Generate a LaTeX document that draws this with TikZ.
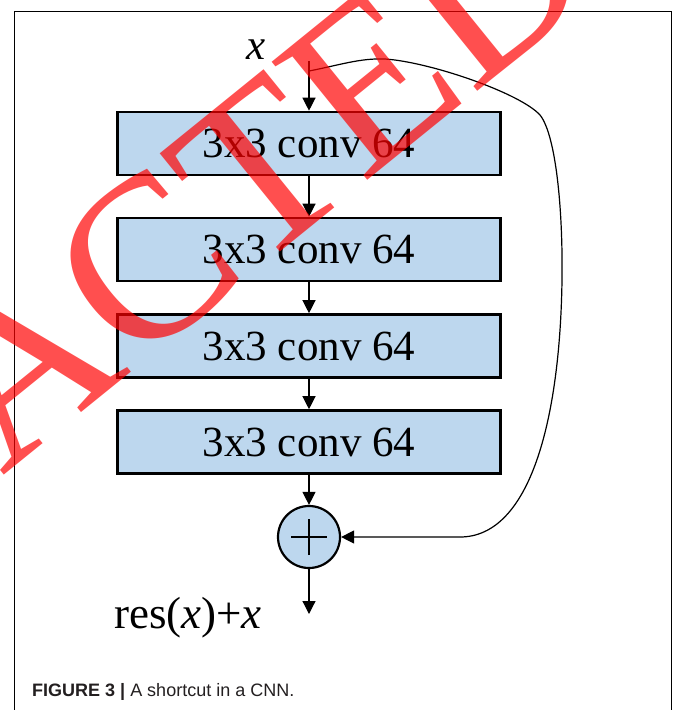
\documentclass[tikz,border=0pt]{standalone}
\usepackage{fontspec}
\setmainfont{Liberation Serif}
\newfontfamily\capfont{Liberation Sans}
\usetikzlibrary{arrows.meta}
\definecolor{boxblue}{HTML}{BDD7EE}
\definecolor{captxt}{HTML}{231F20}
\tikzset{
  convbox/.style={draw=black, line width=2.6pt, fill=boxblue, minimum width=383pt, minimum height=63pt, inner sep=0pt, font=\fontsize{43}{50}\selectfont},
  sumnode/.style={circle, draw=black, line width=2.2pt, fill=boxblue, minimum size=62pt, inner sep=0pt},
  conn/.style={line width=1.2pt, -{Triangle[length=13pt,width=13pt]}},
  frameline/.style={line width=0.9pt},
  wmark/.style={text=red, text opacity=0.69, inner sep=0pt, font=\fontsize{232}{232}\selectfont}
}
\begin{document}
\begin{tikzpicture}[x=1pt,y=-1pt]
\useasboundingbox (0,0) rectangle (673,710);
\draw[frameline] (14.5,720) -- (14.5,11) -- (671,11) -- (671,720);
\node[convbox] (b1) at (309,143.5) {3x3 conv 64};
\node[convbox] (b2) at (309,249.5) {3x3 conv 64};
\node[convbox] (b3) at (309,346) {3x3 conv 64};
\node[convbox] (b4) at (309,442) {3x3 conv 64};
\node[sumnode] (plus) at (309,537) {};
\draw[line width=1.6pt] ([xshift=-18pt]plus.center) -- ([xshift=18pt]plus.center)
  ([yshift=-18pt]plus.center) -- ([yshift=18pt]plus.center);
\node[font=\fontsize{43}{50}\selectfont\itshape, inner sep=0pt] (xin) at (256,50) {x};
\node[font=\fontsize{45}{52}\selectfont, inner sep=0pt, anchor=base west] (res) at (114,628) {res(\textit{x})+\textit{x}};
\coordinate (in) at (309,61);
\coordinate (br) at (309,71);
\coordinate (out) at (309,614);
\draw[conn] (in) -- (b1);
\draw[conn] (b1) -- (b2);
\draw[conn] (b2) -- (b3);
\draw[conn] (b3) -- (b4);
\draw[conn] (b4) -- (plus);
\draw[conn] (plus) -- (out);
\draw[conn] (br) .. controls (340,65) and (360,58) .. (385,59)
  .. controls (430,62) and (520,93) .. (540,115)
  .. controls (556,135) and (563,210) .. (562,280)
  .. controls (560,420) and (530,537) .. (460,537) -- (plus.east);
\node[anchor=base west, inner sep=0pt, text=captxt, font=\capfont\fontsize{18}{22}\selectfont] (cap) at (32,696) {\textbf{FIGURE 3 |} A shortcut in a CNN.};
\begin{scope}
\clip (0,0) rectangle (673,710);
\node[wmark, rotate=39, anchor=base west] (wm) at (2,477) {ACTED};
\end{scope}
\end{tikzpicture}
\end{document}
